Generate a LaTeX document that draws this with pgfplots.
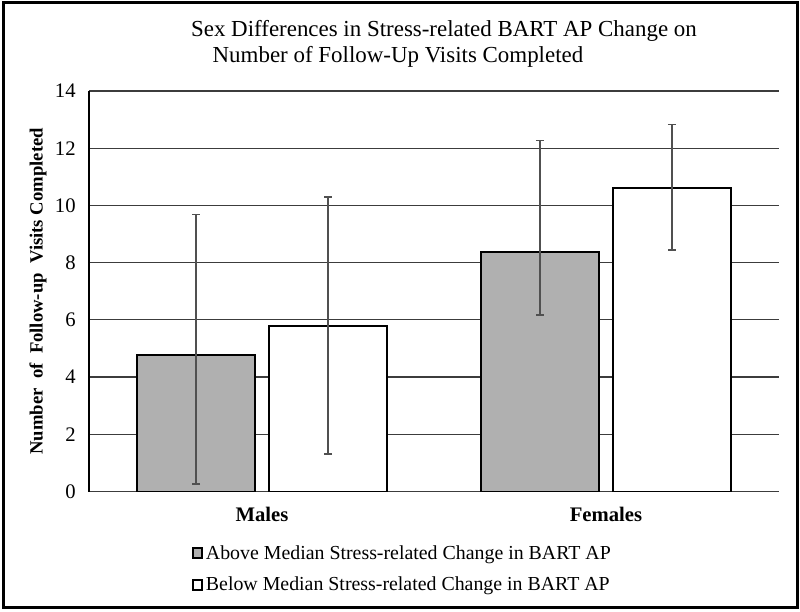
\documentclass[border=0pt]{standalone}
\usepackage{pgfplots}
\pgfplotsset{compat=1.18}
\usepackage{fontspec}
\setmainfont{Liberation Serif}
\definecolor{bargray}{HTML}{B0B0B0}
\definecolor{errgray}{HTML}{505050}
\definecolor{gridgray}{HTML}{3C3C3C}
\begin{document}
\begin{tikzpicture}
\useasboundingbox (0,0) rectangle (600pt,458.25pt);
\draw[line width=2.25pt] (2.25pt,3pt) rectangle (597.75pt,456pt);
\node[font=\fontsize{17.2}{20}\selectfont] at (333pt,435pt) {Sex Differences in Stress-related BART AP Change on};
\node[font=\fontsize{17.2}{20}\selectfont] at (298.5pt,415.5pt) {Number of Follow-Up Visits Completed};
\begin{axis}[
  at={(66.75pt,89.625pt)}, anchor=south west,
  scale only axis, width=517.5pt, height=300.375pt,
  xmin=-0.503, xmax=1.503, ymin=0, ymax=14,
  ytick={0,2,...,14}, xtick={0,1}, xticklabels={Males,Females},
  axis x line=bottom, axis y line=left, axis line style={-, line width=1pt, black},
  x axis line style={gridgray},
  major tick length=0,
  ymajorgrids, grid style={gridgray, line width=0.9pt},
  /pgf/number format/assume math mode=true,
  yticklabel style={font=\fontsize{15.5}{18}\selectfont, xshift=-6.5pt},
  xticklabel style={font=\fontsize{15.5}{18}\selectfont\bfseries, yshift=-8.5pt},
  ylabel={Number\ \ of\ \ Follow-up\ \ Visits Completed},
  ylabel style={font=\fontsize{14}{16}\selectfont\bfseries, at={(axis description cs:-0.0739,0.5)}, anchor=center},
  ybar=10.5pt, bar width=88.5pt,
  legend style={at={(axis description cs:0.149,-0.127)}, anchor=north west, draw=none, fill=none,
    font=\fontsize{14.9}{17}\selectfont, row sep=8pt, inner sep=0pt},
  legend cell align=left,
  legend image code/.code={\draw[#1, line width=1.4pt] (0.5pt,-3.6pt) rectangle (7.5pt,3.6pt);},
  error bars/y dir=both, error bars/y explicit,
  error bars/error bar style={errgray, line width=1.3pt},
  error bars/error mark options={errgray, line width=1.3pt, mark size=3pt, rotate=90},
]
\addplot[draw=black, line width=1.5pt, fill=bargray]
  table[x=x, y=y, y error plus=ep, y error minus=em] {
x y ep em
0 4.78 4.90 4.52
1 8.38 3.89 2.20
};
\addlegendentry{Above Median Stress-related Change in BART AP}
\addplot[draw=black, line width=1.5pt, fill=white]
  table[x=x, y=y, y error plus=ep, y error minus=em] {
x y ep em
0 5.79 4.51 4.48
1 10.62 2.21 2.17
};
\addlegendentry{Below Median Stress-related Change in BART AP}
\end{axis}
\end{tikzpicture}
\end{document}
